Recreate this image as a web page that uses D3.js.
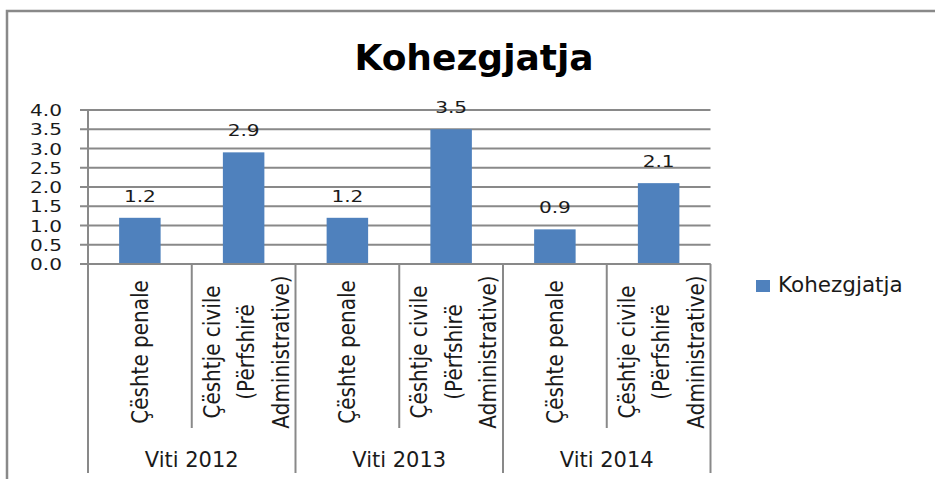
<!DOCTYPE html>
<html>
<head>
<meta charset="utf-8">
<script src="https://cdn.jsdelivr.net/npm/d3@7"></script>
<style>
  body { margin: 0; background: #fff; }
  text { font-family: "DejaVu Sans", sans-serif; fill: #1a1a1a; }
</style>
</head>
<body>
<div id="chart"></div>
<script>
// chart data
var years = ["Viti 2012", "Viti 2013", "Viti 2014"];
var categoryLines = [
    ["Çështe penale"],
    ["Çështje civile", "(Përfshirë", "Administrative)"]
];
var values = [1.2, 2.9, 1.2, 3.5, 0.9, 2.1];
var yTicks = [0, 0.5, 1, 1.5, 2, 2.5, 3, 3.5, 4];
var seriesName = "Kohezgjatja";

var svgWidth = 935;
var svgHeight = 479;

var plot = { left: 88, right: 710.5, top: 110, bottom: 264 };
var barColor = "#4F81BD";
var lineColor = "#898989";

var svg = d3.select("#chart")
    .append("svg")
    .attr("width", svgWidth)
    .attr("height", svgHeight);

// outer frame
svg.append("rect")
    .attr("x", 7)
    .attr("y", 11)
    .attr("width", svgWidth)
    .attr("height", svgHeight)
    .attr("fill", "none")
    .attr("stroke", lineColor)
    .attr("stroke-width", 2.5);

// title
svg.append("text")
    .attr("x", 474)
    .attr("y", 70)
    .attr("text-anchor", "middle")
    .style("font-size", "36px")
    .style("font-weight", "bold")
    .style("fill", "#000")
    .text("Kohezgjatja");

var idx = d3.range(values.length);

var xScale = d3.scaleBand()
    .domain(idx)
    .range([plot.left, plot.right])
    .paddingInner(0.6)
    .paddingOuter(0.3);

var step = (plot.right - plot.left) / values.length;

var yScale = d3.scaleLinear()
    .domain([0, 4])
    .range([plot.bottom, plot.top]);

// gridlines + ticks
svg.selectAll(".grid")
    .data(yTicks)
    .enter()
    .append("line")
    .attr("x1", plot.left - 8)
    .attr("x2", plot.right)
    .attr("y1", d => yScale(d))
    .attr("y2", d => yScale(d))
    .attr("stroke", lineColor)
    .attr("stroke-width", 2);

svg.selectAll(".ylab")
    .data(yTicks)
    .enter()
    .append("text")
    .attr("transform", d => `translate(62, ${yScale(d) + 6}) scale(1.22, 1)`)
    .attr("text-anchor", "end")
    .style("font-size", "16.5px")
    .text(d => d3.format(".1f")(d));

// y axis line
svg.append("line")
    .attr("x1", plot.left)
    .attr("x2", plot.left)
    .attr("y1", plot.top)
    .attr("y2", plot.bottom)
    .attr("stroke", lineColor)
    .attr("stroke-width", 2);

// bars
svg.selectAll(".bar")
    .data(values)
    .enter()
    .append("rect")
    .attr("x", (d, i) => xScale(i))
    .attr("y", d => yScale(d))
    .attr("width", xScale.bandwidth())
    .attr("height", d => yScale(0) - yScale(d))
    .attr("fill", barColor);

// value labels
svg.selectAll(".vlab")
    .data(values)
    .enter()
    .append("text")
    .attr("transform", (d, i) => `translate(${xScale(i) + xScale.bandwidth() / 2}, ${yScale(d) - 16}) scale(1.22, 1)`)
    .attr("text-anchor", "middle")
    .style("font-size", "16.5px")
    .text(d => d.toFixed(1));

// category dividers
svg.selectAll(".cdiv")
    .data(d3.range(values.length + 1))
    .enter()
    .append("line")
    .attr("x1", d => plot.left + d * step)
    .attr("x2", d => plot.left + d * step)
    .attr("y1", plot.bottom)
    .attr("y2", d => d % 2 == 0 ? 473 : 428)
    .attr("stroke", lineColor)
    .attr("stroke-width", 2);

// x axis line
svg.append("line")
    .attr("x1", plot.left)
    .attr("x2", plot.right)
    .attr("y1", plot.bottom)
    .attr("y2", plot.bottom)
    .attr("stroke", lineColor)
    .attr("stroke-width", 2);

// rotated category labels
idx.forEach(function(i) {
    var lines = categoryLines[i % 2];
    var cx = xScale(i) + xScale.bandwidth() / 2 + (lines.length > 1 ? 3 : 0);
    lines.forEach(function(t, k) {
        var lx = cx + (k - (lines.length - 1) / 2) * 34.5;
        svg.append("text")
            .attr("transform", `translate(${lx}, 352) rotate(-90) scale(1, 1.12)`)
            .attr("text-anchor", "middle")
            .attr("dy", "0.35em")
            .style("font-size", "20px")
            .text(t);
    });
});

// year labels
svg.selectAll(".year")
    .data(years)
    .enter()
    .append("text")
    .attr("x", (d, i) => plot.left + (i * 2 + 1) * step)
    .attr("y", 467)
    .attr("text-anchor", "middle")
    .style("font-size", "21px")
    .text(d => d);

// legend
svg.append("rect")
    .attr("x", 756)
    .attr("y", 280)
    .attr("width", 14)
    .attr("height", 12)
    .attr("fill", barColor);

svg.append("text")
    .attr("x", 778)
    .attr("y", 292)
    .style("font-size", "21.5px")
    .text(seriesName);
</script>
</body>
</html>
